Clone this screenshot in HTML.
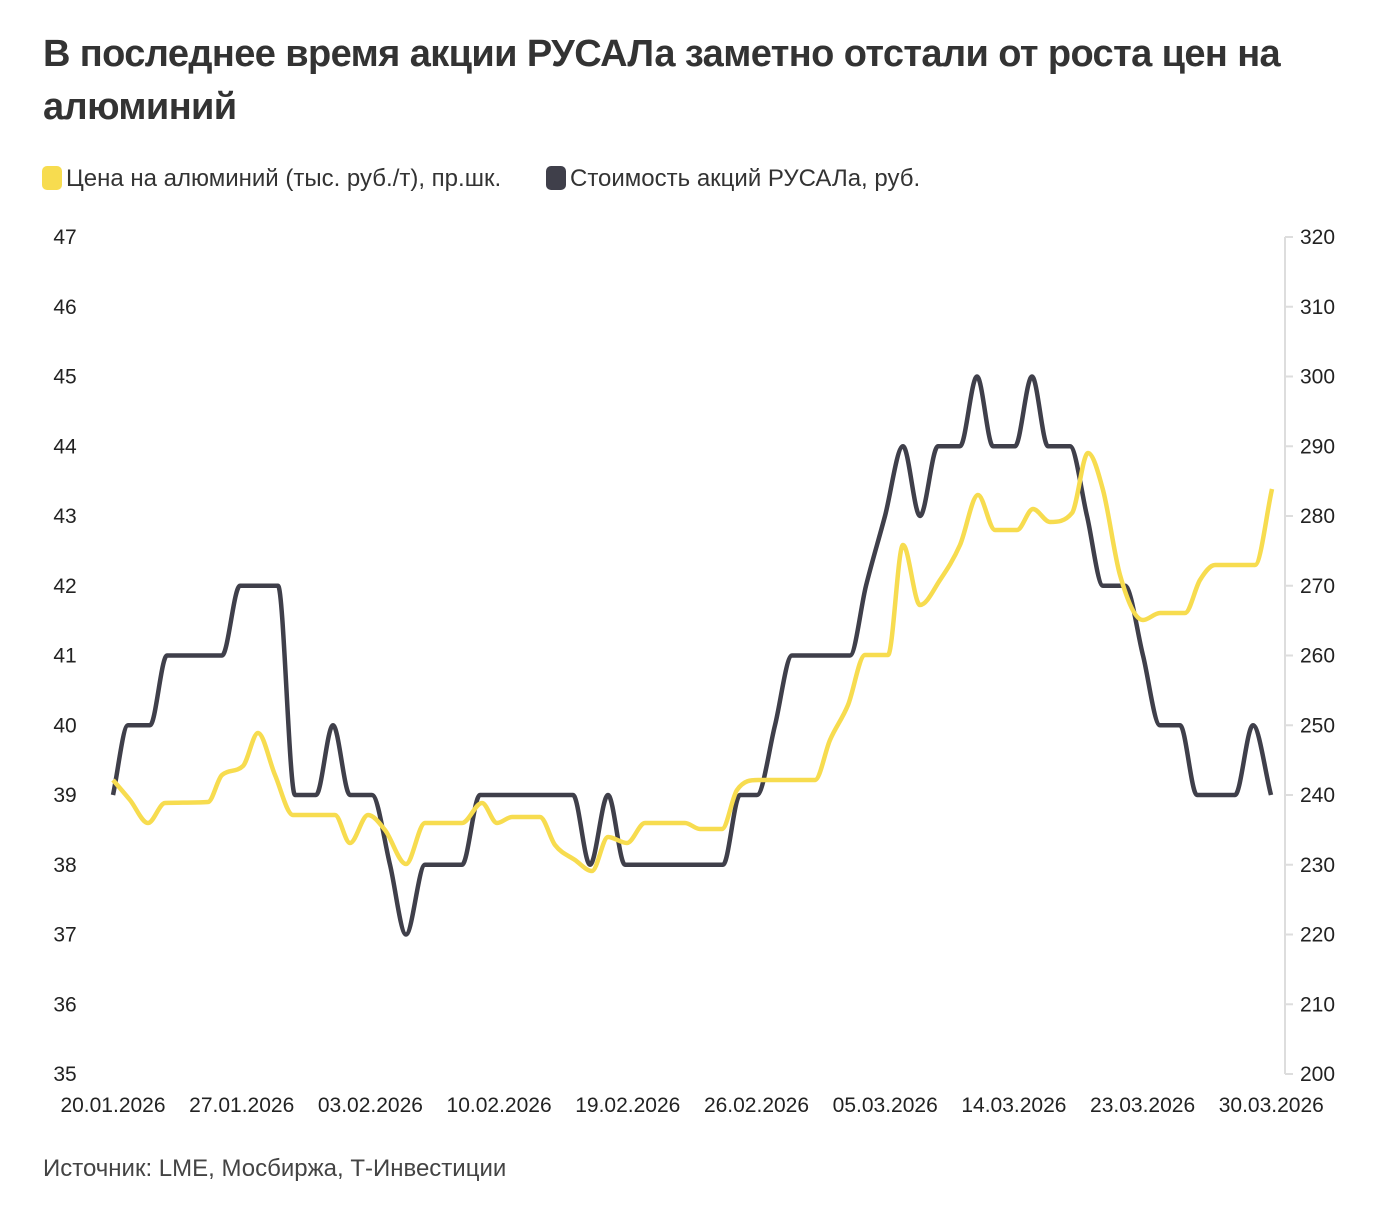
<!DOCTYPE html>
<html><head><meta charset="utf-8"><style>
body{margin:0;background:#fff;width:1388px;height:1212px;overflow:hidden;font-family:"Liberation Sans Narrow","Liberation Sans",sans-serif;color:#333}
.t{position:absolute;left:43px;top:28px;font-size:38px;font-weight:bold;line-height:53px;width:1320px;color:#333;letter-spacing:-0.6px}
.lg{position:absolute;top:165px;font-size:24px;color:#333}
.sw{display:inline-block;width:20px;height:24px;border-radius:5px;vertical-align:-4px;margin-right:4px}
.src{position:absolute;left:43px;top:1155px;font-size:24px;color:#444}
</style></head><body>
<div class="t">В последнее время акции РУСАЛа заметно отстали от роста цен на алюминий</div>
<div class="lg" style="left:42px"><span class="sw" style="background:#f7dc4f"></span>Цена на алюминий (тыс. руб./т), пр.шк.</div>
<div class="lg" style="left:546px"><span class="sw" style="background:#3f3f4a"></span>Стоимость акций РУСАЛа, руб.</div>
<svg id="s" width="1388" height="1212" style="position:absolute;left:0;top:0" font-family="Liberation Sans Narrow, Liberation Sans, sans-serif" font-size="21" fill="#222"></svg>
<div class="src">Источник: LME, Мосбиржа, Т-Инвестиции</div>
<script>
const s=document.getElementById('s');let h='';
h+='<line x1="1285" y1="237" x2="1285" y2="1074" stroke="#ddd" stroke-width="2"/>';
for(let i=0;i<=12;i++){let y=237+i*69.75;
h+=`<text x="65" y="${y+7}" text-anchor="middle">${47-i}</text>`;
h+=`<text x="1300" y="${y+7}">${320-i*10}</text>`;
h+=`<line x1="1285" y1="${y}" x2="1293" y2="${y}" stroke="#ddd" stroke-width="2"/>`;}
const xl=['20.01.2026','27.01.2026','03.02.2026','10.02.2026','19.02.2026','26.02.2026','05.03.2026','14.03.2026','23.03.2026','30.03.2026'];
xl.forEach((l,i)=>{h+=`<text x="${113+i*128.7}" y="1112" text-anchor="middle">${l}</text>`});
function mono(p){const n=p.length,d=[],m=[];for(let i=0;i<n-1;i++)d.push((p[i+1][1]-p[i][1])/(p[i+1][0]-p[i][0]));
m[0]=d[0];m[n-1]=d[n-2];for(let i=1;i<n-1;i++)m[i]=d[i-1]*d[i]<=0?0:(d[i-1]+d[i])/2;
for(let i=0;i<n-1;i++){if(d[i]==0){m[i]=0;m[i+1]=0;continue}let a=m[i]/d[i],b=m[i+1]/d[i],t=a*a+b*b;if(t>9){t=3/Math.sqrt(t);m[i]=t*a*d[i];m[i+1]=t*b*d[i]}}
let s='M'+p[0];for(let i=0;i<n-1;i++){let dx=(p[i+1][0]-p[i][0])/3;s+=`C${p[i][0]+dx},${p[i][1]+m[i]*dx} ${p[i+1][0]-dx},${p[i+1][1]-m[i+1]*dx} ${p[i+1]}`}return s}
const V=v=>237+(320-v)*6.975;
const dk=[[113,240],[128,250],[150,250],[167,260],[222,260],[240,270],[278,270],[295,240],[316,240],[333,250],[350,240],[372,240],[390,230],[406,220],[425,230],[462,230],[480,240],[573,240],[590,230],[608,240],[625,230],[723,230],[740,240],[757,240],[775,250],[792,260],[850,260],[866,270],[885,280],[903,290],[920,280],[938,290],[960,290],[977,300],[993,290],[1015,290],[1032,300],[1048,290],[1070,290],[1087,280],[1103,270],[1125,270],[1143,260],[1160,250],[1180,250],[1197,240],[1235,240],[1253,250],[1271,240]].map(p=>[p[0],V(p[1])]);
const yl=[[113,780],[130,800],[148,823],[165,803],[208,802],[222,775],[243,766],[258,733],[275,775],[293,815],[335,815],[350,843],[368,815],[385,830],[406,864],[425,823],[462,823],[482,803],[497,823],[512,817],[540,817],[555,845],[575,860],[592,871],[608,837],[627,843],[645,823],[685,823],[700,829],[722,829],[737,790],[758,780],[815,780],[830,740],[848,705],[865,655],[888,655],[903,545],[920,605],[940,580],[960,545],[978,495],[995,530],[1017,530],[1033,509],[1050,522],[1072,513],[1088,453],[1103,490],[1120,575],[1143,620],[1160,613],[1185,613],[1200,580],[1215,565],[1255,565],[1272,489]];
h+=`<path d="${mono(dk)}" fill="none" stroke="#3f3f4a" stroke-width="4.5"/>`;
h+=`<path d="${mono(yl)}" fill="none" stroke="#f7dc4f" stroke-width="4.5"/>`;
s.innerHTML=h;
</script>
</body></html>
